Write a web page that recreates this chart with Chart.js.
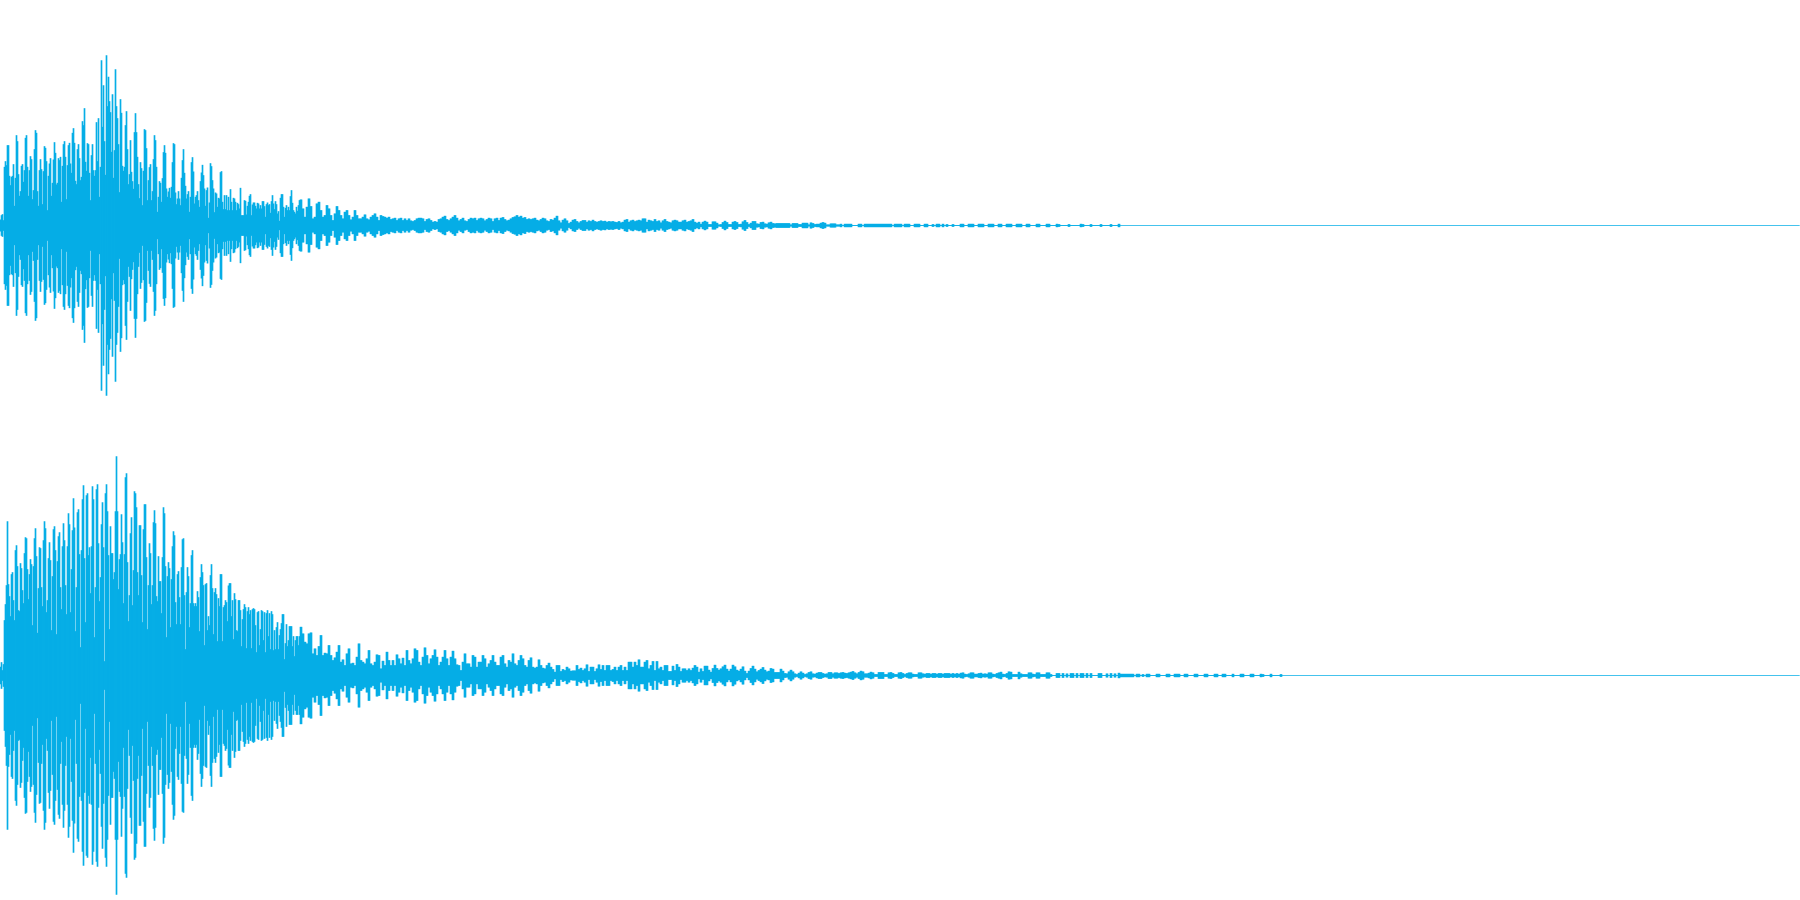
<!DOCTYPE html>
<html lang="en">
  <head>
    <meta charset="UTF-8" />
    <title>Stereo waveform</title>
    <script src="https://cdn.jsdelivr.net/npm/chart.js@4"></script>
    <style>
      html, body { margin: 0; background: #fff; }
      canvas { display: block; }
    </style>
  </head>
  <body>
    <canvas id="leftChart" width="1800" height="450"></canvas>
    <canvas id="rightChart" width="1800" height="450"></canvas>

    <script>
      // peak amplitude, full scale is about 675
      // head = one value per pixel column, body = one value per two columns

      const leftHead = [
        17,30,33,15,175,192,180,240,240,148,
        120,145,148,183,58,142,270,252,153,88,
        102,178,183,130,165,262,270,175,88,165,
        207,198,78,105,228,285,277,102,58,165,
        198,168,63,162,237,232,192,45,148,185,
        201,88,127,197,249,217,122,127,201,195,
        205,70,178,243,252,205,78,180,240,247,
        185,157,277,291,247,133,123,228,243,201,
        135,145,312,300,351,190,163,246,243,157,
        75,210,243,165,148,165,309,192,321,85,
        175,495,295,420,252,151,510,357,445,372,
        339,220,393,142,225,468,357,321,243,99,
        378,337,178,163,175,300,342,228,123,153,
        255,160,132,109,279,336,279,205,123,81,
        189,171,60,163,288,285,231,75,135,174,
        183,75,102,198,270,255,175,40,85,132,
        127,70,141,219,240,217,110,85,101,112,
        82,115,189,246,243,98,63,80,102,80,
        60,142,195,228,157,118,80,93,102,40,
        85,189,204,161,65,85,90,102,75,55,
        132,158,181,150,110,58,105,113,22,68,
        186,177,135,110,39,98,95,55,82,80,
        159,162,70,48,90,48,90,45,85,45,
        108,70,45,82,80,70,45,67,63,50,
        112,30,30,30,75,73,32,58,70,88,
        93,30,62,68,68,58,50,67,65,50,
        60,50,72,72,57,25,63,68,60,63,
        37,72,90,65,48,72,63,35,42,13,
        82,93,93,55,25,52,60,45,55,45,
        87,105,67,45,40,35,55,43,60,75
      ];

      const leftBody = [
        77,50,25,55,80,57,20,25,65,70,
        45,25,30,60,50,30,15,35,57,45,
        30,20,40,45,30,17,25,45,30,20,
        20,25,32,20,17,25,30,35,25,15,
        30,27,25,22,25,18,20,22,15,20,
        22,15,20,15,20,14,12,15,20,22,
        22,20,12,18,20,15,10,12,10,18,
        20,25,28,18,15,20,25,30,22,14,
        18,22,14,12,18,22,20,22,15,20,
        22,20,14,18,22,20,12,20,22,15,
        22,24,18,14,16,20,24,26,30,25,
        28,22,24,18,20,18,20,22,16,14,
        18,22,20,14,12,18,16,22,28,14,
        8,16,20,14,6,10,16,18,12,8,
        12,15,15,10,14,12,16,12,10,12,
        14,12,13,10,12,11,12,10,9,12,
        8,10,16,18,10,14,16,12,14,16,
        14,20,20,10,16,14,12,18,12,14,
        8,14,18,12,10,8,14,16,14,10,
        10,14,16,10,12,14,18,10,7,10,
        4,10,13,10,3,3,11,11,7,2,
        3,9,13,9,3,3,10,12,9,3,
        4,11,15,9,3,7,12,12,5,4,
        9,10,5,4,8,10,6,5,6,6,
        6,6,6,6,6,2,6,6,6,3,
        3,7,7,7,2,8,6,3,4,4,
        7,9,7,2,2,5,5,5,2,2,
        4,0,4,4,4,4,0,0,0,4,
        4,0,4,4,4,4,4,4,4,4,
        4,4,4,4,4,4,0,4,4,4,
        4,0,4,4,4,0,0,4,4,4,
        0,0,4,4,0,0,3,0,4,4,
        0,4,0,3,0,0,3,0,0,0,
        4,4,0,0,4,4,4,0,0,4,
        4,4,0,0,4,4,4,0,0,4,
        4,0,0,4,4,4,0,0,4,4,
        4,0,0,4,4,0,0,0,4,4,
        0,0,0,4,4,0,0,0,4,3,
        0,0,0,0,3,0,0,0,0,0,
        4,3,0,0,0,3,0,0,0,0,
        3,0,0,0,0,3,0,0,0,4
      ];

      const rightHead = [
        25,39,15,33,165,213,270,462,273,237,
        177,303,309,225,165,375,390,327,195,192,
        336,321,255,216,366,414,411,318,228,303,
        348,333,150,327,411,441,357,127,261,384,
        381,264,207,405,462,441,189,225,351,399,
        345,135,297,438,447,375,123,342,417,429,
        264,198,387,456,405,270,183,387,486,453,
        189,318,435,531,443,132,264,489,498,363,
        84,375,528,570,351,159,540,546,360,384,
        246,387,567,528,114,264,558,573,396,222,
        294,453,519,384,42,546,573,492,360,138,
        447,366,366,288,309,492,657,492,258,348,
        363,483,399,216,363,594,606,339,162,240,
        426,474,210,315,552,546,504,309,240,450,
        450,300,159,438,513,513,354,138,270,396,
        366,213,270,459,495,456,237,222,357,282,
        282,186,354,504,486,327,114,297,339,321,
        144,288,387,432,420,219,153,303,312,234,
        153,324,408,411,240,78,249,324,297,144,
        216,360,375,216,207,216,207,252,234,132,
        294,333,309,270,90,273,276,135,177,150,
        300,333,261,123,249,261,243,102,231,207,
        303,303,102,204,210,225,219,162,269,276,
        276,177,225,108,246,228,135,132,225,225,
        195,87,168,198,213,204,81,192,204,183,
        195,81,198,201,198,150,69,189,192,90,
        138,195,192,105,189,69,186,195,117,186,
        78,192,183,75,135,78,144,159,78,120,
        138,156,183,183,48,96,153,87,105,147,
        147,147,87,117,57,105,117,117,90,117
      ];

      const rightBody = [
        145,125,100,95,125,128,65,80,60,87,
        120,60,67,65,90,60,45,53,70,90,
        40,47,30,65,80,35,37,30,55,95,
        45,40,35,50,75,35,30,40,62,60,
        20,43,30,70,45,30,45,30,62,50,
        35,52,30,75,45,35,50,80,75,40,
        30,55,83,60,35,50,60,77,55,30,
        40,55,75,50,30,55,73,50,32,30,
        15,40,65,35,35,25,60,55,25,40,
        40,60,50,25,35,45,60,40,30,30,
        55,60,35,25,45,40,65,35,30,45,
        60,50,30,25,45,53,25,22,25,47,
        30,22,20,30,37,25,18,10,30,30,
        12,18,15,25,20,13,14,14,30,18,
        22,15,20,32,12,25,25,12,20,32,
        18,30,15,30,30,15,18,25,15,25,
        30,15,25,15,40,40,25,40,30,47,
        25,25,40,45,20,30,42,15,42,20,
        25,15,30,30,12,12,28,15,33,25,
        12,20,20,15,20,15,22,30,25,10,
        20,12,28,28,16,10,21,31,21,16,
        20,26,31,19,13,19,31,26,16,13,
        19,26,13,6,13,21,28,19,11,15,
        19,24,16,11,13,21,19,9,9,9,
        19,13,6,5,11,16,11,5,3,7,
        11,7,3,5,9,11,5,4,7,9,
        9,6,4,5,9,9,5,8,8,6,
        8,9,7,6,8,10,12,8,5,9,
        13,11,5,5,7,10,8,3,3,9,
        9,9,3,3,8,9,6,3,3,8,
        9,6,3,6,8,8,4,3,3,8,
        8,5,4,6,6,4,6,6,4,6,
        6,4,6,6,6,4,6,4,6,4,
        7,8,4,3,5,8,8,4,4,6,
        7,4,5,4,8,8,4,3,6,8,
        10,4,3,6,11,10,3,3,3,10,
        5,3,3,3,8,8,4,3,8,8,
        3,3,3,8,8,3,0,0,6,6,
        0,6,0,5,0,6,6,0,6,0,
        6,6,0,6,0,6,0,0,0,6,
        6,0,0,5,0,6,0,5,0,7,
        4,4,4,4,4,4,4,0,4,4,
        0,3,0,4,4,0,0,0,4,4,
        0,0,0,4,4,0,0,4,4,4,
        0,0,4,4,0,0,0,4,4,0,
        0,0,4,4,0,0,0,4,4,0,
        0,4,4,0,0,0,4,0,0,0,
        4,4,0,0,0,4,4,0,0,0,
        4,3,0,0,0,4,0,0,0,0,
        3
      ];

      const columnCount = 1800;
      const waveColor = '#06aee6';

      function perColumn(head, body) {
        return head.concat(body.flatMap(v => [v, v]));
      }

      function drawChannel(id, head, body) {
        const peaks = perColumn(head, body);
        const labels = [];
        for (let i = 0; i < columnCount; i++) labels.push(String(i));
        new Chart(document.getElementById(id), {
          data: {
            labels: labels,
            datasets: [
              {
                type: 'bar',
                data: peaks.map(p => [-p, p]),
                backgroundColor: waveColor,
                borderWidth: 0,
                borderSkipped: false,
                barThickness: 1
              },
              {
                type: 'line',
                data: labels.map(() => 0),
                borderColor: waveColor,
                borderWidth: 1,
                pointRadius: 0
              }
            ]
          },
          options: {
            responsive: false,
            animation: false,
            layout: { padding: 0 },
            plugins: { legend: { display: false }, tooltip: { enabled: false } },
            scales: {
              x: { display: false, offset: true },
              // zero lands on the middle of a pixel row
              y: { display: false, min: -673.5, max: 676.5 }
            }
          }
        });
      }

      drawChannel('leftChart', leftHead, leftBody);
      drawChannel('rightChart', rightHead, rightBody);
    </script>
  </body>
</html>
